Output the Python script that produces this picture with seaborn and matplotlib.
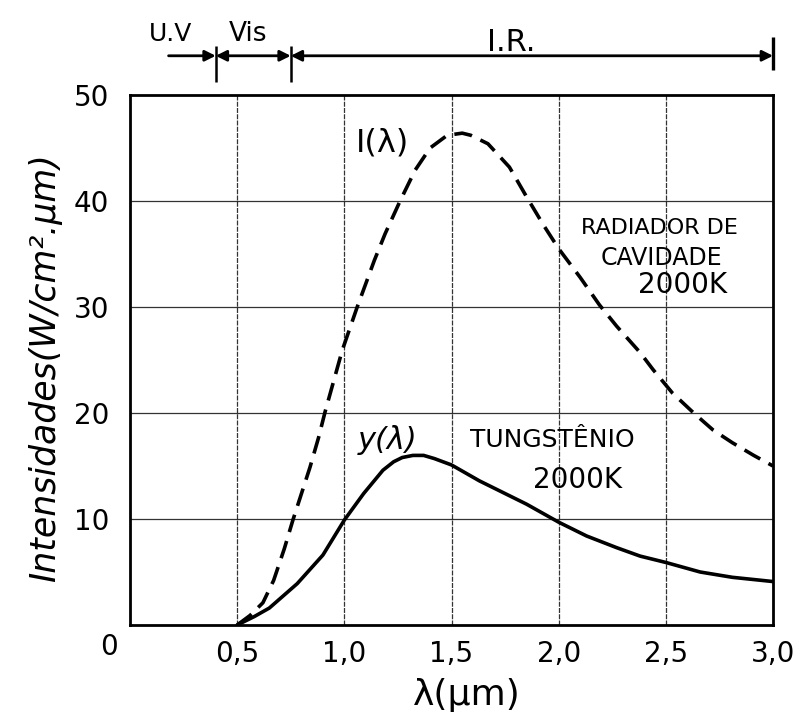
import matplotlib
matplotlib.use("Agg")
import matplotlib.pyplot as plt
import seaborn as sns

# cavity radiator I(lambda), 2000 K (dashed)
cavity_wl = [0.50, 0.56, 0.62, 0.67, 0.72, 0.76, 0.84, 0.88, 0.91, 0.99, 1.06, 1.14, 1.19,
             1.26, 1.33, 1.40, 1.48, 1.55, 1.59, 1.67, 1.77, 1.85, 1.93, 2.00, 2.10,
             2.19, 2.27, 2.38, 2.44, 2.53, 2.63, 2.72, 2.81, 2.91, 3.00]
cavity_int = [0.0, 0.9, 2.1, 4.2, 7.2, 9.9, 14.9, 17.7, 20.1, 25.9, 30.0, 34.4, 36.9,
              40.0, 42.9, 45.0, 46.2, 46.4, 46.2, 45.4, 43.2, 40.4, 37.7, 35.5, 32.8,
              30.2, 28.2, 25.7, 24.1, 21.9, 20.0, 18.4, 17.2, 16.0, 15.0]

# tungsten y(lambda), 2000 K (solid)
tungsten_wl = [0.50, 0.58, 0.65, 0.78, 0.90, 1.00, 1.09, 1.18, 1.23, 1.27, 1.32, 1.37, 1.42,
               1.46, 1.50, 1.63, 1.73, 1.85, 2.00, 2.13, 2.27, 2.38, 2.50, 2.66, 2.81, 3.00]
tungsten_int = [0.0, 0.8, 1.6, 3.9, 6.6, 9.9, 12.4, 14.6, 15.4, 15.8, 16.0, 16.0, 15.7,
                15.4, 15.1, 13.6, 12.6, 11.4, 9.7, 8.4, 7.3, 6.5, 5.9, 5.0, 4.5, 4.1]

x_ticks = [0.5, 1.0, 1.5, 2.0, 2.5, 3.0]
x_tick_labels = ["0,5", "1,0", "1,5", "2,0", "2,5", "3,0"]
y_ticks = [10, 20, 30, 40, 50]

# spectral bands along the top: U.V | Vis | I.R.
band_edges = [0.18, 0.40, 0.75, 3.0]
band_names = ["U.V", "Vis", "I.R."]

sns.set_style("white", rc={"text.color": "black", "axes.labelcolor": "black",
                           "xtick.color": "black", "ytick.color": "black"})
plt.rcParams["font.family"] = ["DejaVu Sans"]

fig = plt.figure(figsize=(7.99, 7.17), dpi=100)
ax = fig.add_axes([0.1627, 0.1283, 0.8048, 0.7392])

sns.lineplot(x=cavity_wl, y=cavity_int, ax=ax, color="black", lw=2.6,
             linestyle=(0, (5, 2.6)), sort=False)
sns.lineplot(x=tungsten_wl, y=tungsten_int, ax=ax, color="black", lw=2.6, sort=False)

ax.set_xlim(0, 3)
ax.set_ylim(0, 50)
ax.set_xticks(x_ticks)
ax.set_xticklabels(x_tick_labels)
ax.set_yticks(y_ticks)
ax.tick_params(axis="both", direction="in", length=4, width=1.5, labelsize=20)
ax.tick_params(axis="x", pad=11)
ax.tick_params(axis="y", pad=15)

# grid: vertical lines rough/dotted, horizontal thin solid
for xv in x_ticks[:-1]:
    ax.axvline(xv, color="black", lw=0.9, linestyle=(0, (4, 1)), alpha=0.8, zorder=0)
for yv in y_ticks[:-1]:
    ax.axhline(yv, color="black", lw=0.9, alpha=0.8, zorder=0)

for sp in ax.spines.values():
    sp.set_color("black")
    sp.set_linewidth(2)

ax.text(-0.10, -2.1, "0", fontsize=20, ha="center", va="center")

ax.set_xlabel("λ(μm)", fontsize=26)
ax.xaxis.set_label_coords(0.524, -0.132)
ax.xaxis.label.set_va("center")
ax.set_ylabel("Intensidades(W/cm².μm)", fontsize=25, fontstyle="italic")
ax.yaxis.set_label_coords(-0.132, 0.485)
ax.yaxis.label.set_va("center")

# curve labels
ax.text(1.18, 45.5, "I(λ)", fontsize=23, ha="center", va="center")
ax.text(1.20, 17.5, "y(λ)", fontsize=22, ha="center", va="center", fontstyle="italic")
ax.text(2.47, 37.5, "RADIADOR DE", fontsize=16, ha="center", va="center")
ax.text(2.48, 34.6, "CAVIDADE", fontsize=17, ha="center", va="center")
ax.text(2.58, 32.1, "2000K", fontsize=20, ha="center", va="center")
ax.text(1.97, 17.5, "TUNGSTÊNIO", fontsize=18, ha="center", va="center")
ax.text(2.09, 13.7, "2000K", fontsize=20, ha="center", va="center")

# band arrows above the plot
arrow_y = 53.7
arrow_kw = dict(color="black", lw=2, mutation_scale=16, shrinkA=0, shrinkB=0)
ax.annotate("", xy=(band_edges[1], arrow_y), xytext=(band_edges[0], arrow_y),
            arrowprops=dict(arrowstyle="-|>", **arrow_kw), annotation_clip=False)
ax.annotate("", xy=(band_edges[2], arrow_y), xytext=(band_edges[1], arrow_y),
            arrowprops=dict(arrowstyle="<|-|>", **arrow_kw), annotation_clip=False)
ax.annotate("", xy=(band_edges[3], arrow_y), xytext=(band_edges[2], arrow_y),
            arrowprops=dict(arrowstyle="<|-|>", **arrow_kw), annotation_clip=False)
ax.vlines(band_edges[1:3], 51.2, 54.6, color="black", lw=1.8, clip_on=False)
ax.vlines(band_edges[3], 52.4, 55.5, color="black", lw=2.4, clip_on=False)
ax.text(0.19, 55.8, band_names[0], fontsize=18, ha="center", va="center")
ax.text(0.55, 55.8, band_names[1], fontsize=19, ha="center", va="center")
ax.text(1.78, 55.0, band_names[2], fontsize=22, ha="center", va="center")

fig.savefig("out.png", dpi=100)
